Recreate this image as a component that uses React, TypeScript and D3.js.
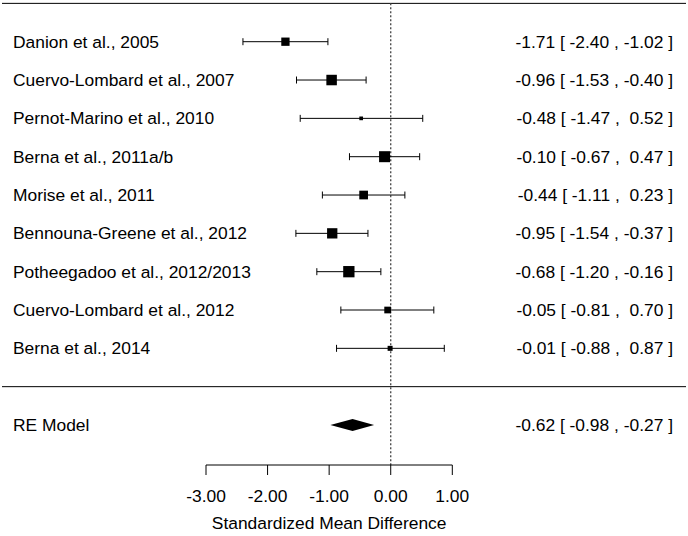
import React from "react";
import * as d3 from "d3";

const studies = [
  "Danion et al., 2005",
  "Cuervo-Lombard et al., 2007",
  "Pernot-Marino et al., 2010",
  "Berna et al., 2011a/b",
  "Morise et al., 2011",
  "Bennouna-Greene et al., 2012",
  "Potheegadoo et al., 2012/2013",
  "Cuervo-Lombard et al., 2012",
  "Berna et al., 2014",
];
const estimates = [-1.71, -0.96, -0.48, -0.1, -0.44, -0.95, -0.68, -0.05, -0.01];
const lower = [-2.4, -1.53, -1.47, -0.67, -1.11, -1.54, -1.2, -0.81, -0.88];
const upper = [-1.02, -0.4, 0.52, 0.47, 0.23, -0.37, -0.16, 0.7, 0.87];
const weights = [8.3, 10.5, 3.7, 11, 8.7, 10.3, 11.3, 6.7, 5];
const summaryLabel = "RE Model";
const summary = { est: -0.62, lo: -0.98, hi: -0.27 };
const ticks = [-3, -2, -1, 0, 1];
const xTitle = "Standardized Mean Difference";

const W = 688;
const H = 536;
const FONT = "'Liberation Sans', Arial, Helvetica, sans-serif";
const FS = 17.4;

function fmt(v: number): string {
  const s = v.toFixed(2);
  return v < 0 ? s : " " + s;
}
function ciText(e: number, l: number, u: number): string {
  return `${e.toFixed(2)} [ ${fmt(l)} , ${fmt(u)} ]`;
}

export default function App() {
  const x = d3.scaleLinear().domain([-3, 1]).range([206, 452.3]);
  const y = d3.scaleLinear().domain([0, 1]).range([41.7, 80.03]);
  const axisY = 465;
  const topY = y(-1);
  const sepY = y(9);
  const sumY = y(10);
  const rightX = 673;
  const diamondPath = d3.line()([
    [x(summary.lo), sumY],
    [x(summary.est), sumY - 6],
    [x(summary.hi), sumY],
    [x(summary.est), sumY + 6],
  ] as [number, number][]) + "Z";

  return (
    <svg
      width={W}
      height={H}
      style={{ position: "absolute", left: 0, top: 0, background: "#fff" }}
      fontFamily={FONT}
    >
      <rect x={0} y={0} width={W} height={H} fill="#fff" />
      <line x1={2} x2={686} y1={topY} y2={topY} stroke="#000" strokeWidth={1} />
      <line x1={2} x2={686} y1={sepY} y2={sepY} stroke="#000" strokeWidth={1} />
      <line
        x1={x(0)}
        x2={x(0)}
        y1={topY}
        y2={axisY}
        stroke="#444"
        strokeWidth={1.3}
        strokeDasharray="2,2"
      />
      {studies.map((s, i) => {
        const cy = y(i);
        const sz = weights[i];
        return (
          <g key={s}>
            <text x={13} y={cy} dy="0.35em" fontSize={FS} fill="#000">
              {s}
            </text>
            <line x1={x(lower[i])} x2={x(upper[i])} y1={cy} y2={cy} stroke="#000" strokeWidth={1} />
            <line x1={x(lower[i])} x2={x(lower[i])} y1={cy - 3.5} y2={cy + 3.5} stroke="#000" strokeWidth={1} />
            <line x1={x(upper[i])} x2={x(upper[i])} y1={cy - 3.5} y2={cy + 3.5} stroke="#000" strokeWidth={1} />
            <rect x={x(estimates[i]) - sz / 2} y={cy - sz / 2} width={sz} height={sz} fill="#000" />
            <text
              x={rightX}
              y={cy}
              dy="0.35em"
              fontSize={FS}
              textAnchor="end"
              fill="#000"
              style={{ whiteSpace: "pre" }}
            >
              {ciText(estimates[i], lower[i], upper[i])}
            </text>
          </g>
        );
      })}
      <text x={13} y={sumY} dy="0.35em" fontSize={FS} fill="#000">
        {summaryLabel}
      </text>
      <path d={diamondPath} fill="#000" />
      <text
        x={rightX}
        y={sumY}
        dy="0.35em"
        fontSize={FS}
        textAnchor="end"
        fill="#000"
        style={{ whiteSpace: "pre" }}
      >
        {ciText(summary.est, summary.lo, summary.hi)}
      </text>
      <line x1={x(-3)} x2={x(1)} y1={axisY} y2={axisY} stroke="#000" strokeWidth={1} />
      {ticks.map((t) => (
        <g key={t}>
          <line x1={x(t)} x2={x(t)} y1={axisY} y2={axisY + 10} stroke="#000" strokeWidth={1} />
          <text x={x(t)} y={496} dy="0.35em" fontSize={FS} textAnchor="middle" fill="#000">
            {t.toFixed(2)}
          </text>
        </g>
      ))}
      <text x={x(-1)} y={523} dy="0.35em" fontSize={FS} textAnchor="middle" fill="#000">
        {xTitle}
      </text>
    </svg>
  );
}
